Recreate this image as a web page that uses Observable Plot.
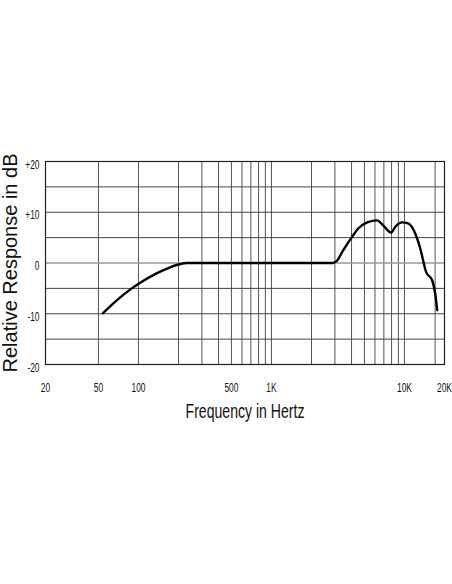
<!DOCTYPE html>
<html>
<head>
<meta charset="utf-8">
<script src="https://cdn.jsdelivr.net/npm/d3@7"></script>
<script src="https://cdn.jsdelivr.net/npm/@observablehq/plot@0.6"></script>
<style>
  body { margin: 0; background: #fff; }
  #chart svg { display: block; }
</style>
</head>
<body>
<div id="chart"></div>
<script>
// frequency response
const freqs = [54, 69, 87, 103, 138, 173, 200, 231, 500, 1000, 2000, 2900, 3120, 3460, 4050, 4490, 5250, 6240, 6920, 7950, 8510, 9620, 10670, 12050, 13130, 14570, 16150, 17020, 17630]
const response = [-9.9, -7.3, -5.2, -3.9, -2.0, -0.85, -0.3, 0, 0, 0, 0, 0, 0.5, 2.5, 5.2, 6.8, 8, 8.4, 7.4, 6, 7.1, 8, 7.8, 5.8, 2.9, -1.8, -3.4, -6, -9.3]

const gridFreqs = [50, 100, 200, 300, 400, 500, 600, 700, 800, 900, 1000, 2000, 3000, 4000, 5000, 6000, 7000, 8000, 9000, 10000, 17000]
const gridDb = [-15, -10, -5, 5, 10, 15]

const xTicks = [20, 50, 100, 500, 1000, 10000, 20000]
const xTickLabels = ["20", "50", "100", "500", "1K", "10K", "20K"]
const yTicks = [20, 10, 0, -10, -20]
const yTickLabels = ["+20", "+10", "0", "-10", "-20"]

const data = freqs.map((f, i) => ({freq: f, db: response[i]}))

const sans = "'Liberation Sans', Arial, sans-serif"

let chart = Plot.plot({
  width: 452,
  height: 584,
  marginLeft: 45,
  marginRight: 8,
  marginTop: 161,
  marginBottom: 220,
  style: {
    fontFamily: sans,
    fontSize: "12.5px",
    color: "#111",
    background: "#fff"
  },
  x: {type: "log", domain: [20, 20000], label: null, axis: null},
  y: {domain: [-20, 20], label: null, axis: null},
  marks: [
    Plot.ruleX(gridFreqs, {stroke: "#555", strokeWidth: 1}),
    Plot.ruleY(gridDb, {stroke: "#444", strokeWidth: 1}),
    Plot.ruleY([0], {stroke: "#999", strokeWidth: 1.6}),
    Plot.frame({stroke: "#222", strokeWidth: 1.2}),
    Plot.line(data, {
      x: "freq",
      y: "db",
      curve: "monotone-x",
      stroke: "#000",
      strokeWidth: 2.4
    }),
    // tick labels
    Plot.text(xTicks, {
      x: d => d,
      frameAnchor: "bottom",
      lineAnchor: "middle",
      dy: 23,
      text: (d, i) => xTickLabels[i],
      fill: "#111"
    }),
    Plot.text(yTicks, {
      y: d => d,
      frameAnchor: "left",
      textAnchor: "end",
      lineAnchor: "middle",
      dx: -6,
      dy: 3,
      text: (d, i) => yTickLabels[i],
      fill: "#111"
    }),
    // axis titles
    Plot.text(["Frequency in Hertz"], {
      frameAnchor: "bottom",
      lineAnchor: "middle",
      dy: 47,
      fontSize: 21,
      fill: "#111"
    }),
    Plot.text(["Relative Response in dB"], {
      frameAnchor: "left",
      textAnchor: "middle",
      lineAnchor: "middle",
      rotate: -90,
      dx: -35,
      fontSize: 20,
      fill: "#111"
    })
  ]
})

d3.select('#chart').append(() => chart)

// the picture uses a condensed face: squeeze tick labels and the x title
const narrowTexts = new Set([...xTickLabels, ...yTickLabels, "Frequency in Hertz"])
d3.select(chart).selectAll("text").each(function() {
  if (!narrowTexts.has(this.textContent)) return
  const len = this.getComputedTextLength()
  this.setAttribute("textLength", len * 0.67)
  this.setAttribute("lengthAdjust", "spacingAndGlyphs")
})
</script>
</body>
</html>
